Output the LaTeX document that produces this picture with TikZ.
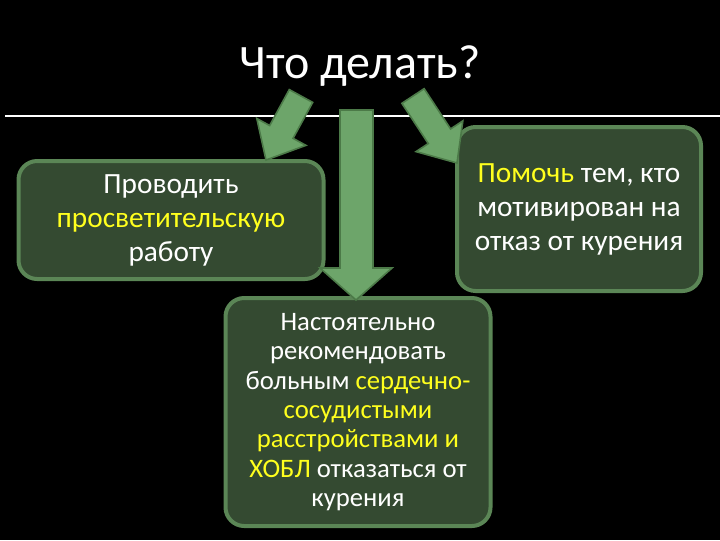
\documentclass[tikz,border=0pt]{standalone}
\usepackage{fontspec}
\setmainfont{Carlito}
\usetikzlibrary{calc}
\definecolor{boxfill}{HTML}{344A31}
\definecolor{boxedge}{HTML}{5B8656}
\definecolor{arrfill}{HTML}{6DA56A}
\definecolor{arredge}{HTML}{4C7A48}
\definecolor{hl}{HTML}{FFFF1E}
\tikzset{
  box/.style={draw=boxedge,line width=3pt,fill=boxfill,rounded corners=14pt},
  txt/.style={text=white,align=center,font=\fontsize{22}{25.5}\selectfont},
  arr/.style={draw=arredge,line width=1.2pt,fill=arrfill,line join=miter}
}
\newcommand{\fatarrow}[2]{%
  \coordinate (fa) at #1; \coordinate (fb) at #2;
  \coordinate (fh) at ($(fb)!24pt!(fa)$);
  \path[arr] ($(fa)!10pt!90:(fb)$) -- ($(fh)!10pt!-90:(fa)$) -- ($(fh)!21pt!-90:(fa)$) -- (fb)
   -- ($(fh)!21pt!90:(fa)$) -- ($(fh)!10pt!90:(fa)$) -- ($(fa)!10pt!-90:(fb)$) -- cycle;}
\begin{document}
\begin{tikzpicture}[x=0.75pt,y=-0.75pt]
\fill[black] (0,0) rectangle (720,540);
\useasboundingbox (0,0) rectangle (720,540);
\draw[white,line width=2pt] (5,116) -- (720,116);
\node[box,minimum width=305*0.75pt,minimum height=118*0.75pt] (l) at (171,220) {};
\node[box,minimum width=244*0.75pt,minimum height=164*0.75pt] (r) at (579,209) {};
\node[box,minimum width=265*0.75pt,minimum height=228*0.75pt] (c) at (358,412) {};
\fatarrow{(301,96)}{(266,160)}
\fatarrow{(413,96)}{(457,163)}
\path[arr] (340,110) -- (373,110) -- (373,268) -- (392,268) -- (356,300) -- (320,268) -- (340,268) -- cycle;
\node[text=white,font=\fontsize{36}{40}\selectfont] (t) at (360,66) {Что делать?};
\node[txt] at (l) {Проводить\\\textcolor{hl}{просветительскую}\\работу};
\node[txt] at (r) {\textcolor{hl}{Помочь} тем, кто\\мотивирован на\\отказ от курения};
\node[txt,font=\fontsize{20}{22}\selectfont] at (358,412) {Настоятельно\\рекомендовать\\больным \textcolor{hl}{сердечно-}\\\textcolor{hl}{сосудистыми}\\\textcolor{hl}{расстройствами и}\\\textcolor{hl}{ХОБЛ} отказаться от\\курения};
\end{tikzpicture}
\end{document}
